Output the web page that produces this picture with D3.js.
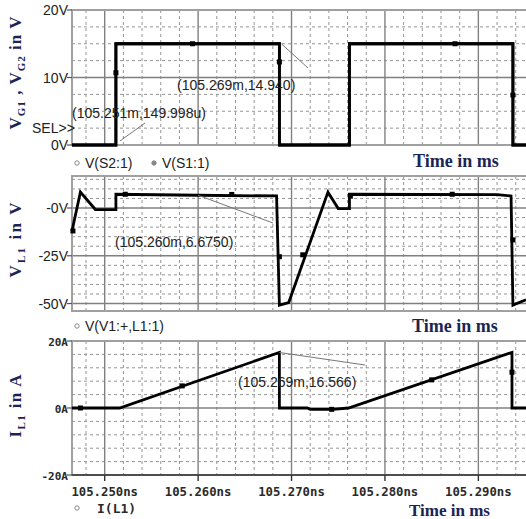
<!DOCTYPE html>
<html>
<head>
<meta charset="utf-8">
<script src="https://cdn.jsdelivr.net/npm/d3@7"></script>
<style>
body { margin: 0; background: #fff; }
svg { display: block; }
.vlab { font-family: "Liberation Sans", Arial, sans-serif; font-size: 14px; fill: #222; }
.mono { font-family: "DejaVu Sans Mono", monospace; font-weight: bold; fill: #2a2a2a; }
.ttl { font-family: "Liberation Serif", "Times New Roman", serif; font-weight: bold; fill: #1b2554; }
</style>
</head>
<body>
<div id="chart"></div>
<script>
// time axis (values as printed on the plot, in "ns")
var timeDomain = [105.2465, 105.2951];
var majorTimes = [105.25, 105.26, 105.27, 105.28, 105.29];
var timeLabels = ["105.250ns", "105.260ns", "105.270ns", "105.280ns", "105.290ns"];

// panel 1 : gate voltages
var gateTime = [105.2465, 105.2512, 105.2512, 105.2687, 105.2687, 105.2762, 105.2762, 105.2937, 105.2937, 105.2951];
var gateS2 = [0, 0, 15, 15, 0, 0, 15, 15, 0, 0];
var gateS1 = [0, 0, 15, 15, 0, 0, 15, 15, 0, 0];
var gateMarks = [[105.2512, 10.7], [105.2594, 15], [105.2687, 12.3], [105.2875, 15], [105.2937, 7.4]];
var gateTicks = [20, 10, 0];
var gateTickLabels = ["20V", "10V", "0V"];

// panel 2 : inductor voltage
var vlTime = [105.2465, 105.2474, 105.2490, 105.2512, 105.2512, 105.2600, 105.2684, 105.2687, 105.2697, 105.2739, 105.2750, 105.2762, 105.2762, 105.2920, 105.2935, 105.2937, 105.2951];
var vlValues = [-12, 8.3, -0.8, -0.8, 7.2, 6.675, 6.3, -50.8, -49.5, 8.3, -0.3, -0.3, 7.2, 7.0, 6.3, -50.8, -48];
var vlMarks = [[105.2466, -12], [105.2522, 7.2], [105.2636, 7.1], [105.2687, -25.5], [105.2712, -24.5], [105.2763, 6.2], [105.2872, 7.2], [105.2937, -16.7]];
var vlTicks = [0, -25, -50];
var vlTickLabels = ["-0V", "-25V", "-50V"];

// panel 3 : inductor current
var ilTime = [105.2465, 105.2516, 105.2687, 105.2687, 105.2717, 105.2720, 105.2744, 105.2761, 105.2936, 105.2936, 105.2951];
var ilValues = [0, 0, 16.566, 0, 0, -0.4, -0.4, 0, 16.6, 0, 0];
var ilMarks = [[105.2474, 0], [105.2583, 6.6], [105.2743, -0.4], [105.2850, 8.4], [105.2936, 10.7]];
var ilTicks = [20, 0, -20];
var ilTickLabels = ["20A", "0A", "-20A"];

var W = 526, H = 519, left = 72;

var svg = d3.select("#chart").append("svg").attr("width", W).attr("height", H);

var x = d3.scaleLinear().domain(timeDomain).range([left, W]);

svg.append("defs").append("clipPath").attr("id", "plotclip")
   .append("rect").attr("x", left - 2).attr("y", 0).attr("width", W).attr("height", H);

var zip = function(ts, vs) {
    return ts.map(function(t, i) { return [t, vs[i]]; });
};

var drawPanel = function(p) {
    var y = d3.scaleLinear().domain(p.yDomain).range([p.bottom, p.top]);
    var g = svg.append("g");

    // minor grid
    var minorX = d3.range(105.248, 105.2951, 0.002).filter(function(t) {
        return Math.abs(Math.round(t * 100) - t * 100) > 1e-6;
    });
    g.selectAll(".mx").data(minorX).enter().append("line")
     .attr("x1", x).attr("x2", x).attr("y1", p.top).attr("y2", p.bottom)
     .attr("stroke", "#959595").attr("stroke-dasharray", "3,3");
    g.selectAll(".my").data(p.yMinor).enter().append("line")
     .attr("x1", left).attr("x2", W).attr("y1", y).attr("y2", y)
     .attr("stroke", "#959595").attr("stroke-dasharray", "3,3");

    // major grid
    g.selectAll(".Mx").data(majorTimes).enter().append("line")
     .attr("x1", x).attr("x2", x).attr("y1", p.top).attr("y2", p.bottom)
     .attr("stroke", "#808080").attr("stroke-width", 1.4);
    g.selectAll(".My").data(p.yTicks).enter().append("line")
     .attr("x1", left).attr("x2", W).attr("y1", y).attr("y2", y)
     .attr("stroke", "#808080").attr("stroke-width", 1.4);

    // frame
    g.append("rect").attr("x", left).attr("y", p.top)
     .attr("width", W - left + 4).attr("height", p.bottom - p.top)
     .attr("fill", "none").attr("stroke", "#a0a0a0").attr("stroke-width", 2);

    // y ticks + labels
    g.selectAll(".yt").data(p.yTicks).enter().append("line")
     .attr("x1", left - 5).attr("x2", left).attr("y1", y).attr("y2", y)
     .attr("stroke", "#555").attr("stroke-width", 1.2);
    g.selectAll(".yl").data(p.yTicks).enter().append("text")
     .attr("class", p.mono ? "mono" : "vlab")
     .attr("font-size", p.mono ? 11 : null)
     .attr("x", left - 4).attr("y", function(d) { return y(d) + 5; })
     .attr("text-anchor", "end")
     .text(function(d, i) { return p.yLabels[i]; });

    // traces
    var line = d3.line().x(function(d) { return x(d[0]); }).y(function(d) { return y(d[1]); });
    var tg = g.append("g").attr("clip-path", "url(#plotclip)");
    p.series.forEach(function(s) {
        tg.append("path").datum(s).attr("d", line)
          .attr("fill", "none").attr("stroke", "#000").attr("stroke-width", 2.8)
          .attr("stroke-linejoin", "miter");
    });
    tg.selectAll(".mk").data(p.marks).enter().append("rect")
      .attr("x", function(d) { return x(d[0]) - 2.5; })
      .attr("y", function(d) { return y(d[1]) - 2.5; })
      .attr("width", 5).attr("height", 5).attr("fill", "#000");

    // cursor annotations
    p.notes.forEach(function(n) {
        g.append("line")
         .attr("x1", x(n.t) + n.d0[0]).attr("y1", y(n.v) + n.d0[1])
         .attr("x2", n.end[0]).attr("y2", n.end[1])
         .attr("stroke", "#777").attr("stroke-width", 1);
        g.append("text").attr("class", "vlab").attr("font-size", 15)
         .attr("x", n.pos[0]).attr("y", n.pos[1]).text(n.text);
    });
    return y;
};

var p1 = {
    top: 10, bottom: 145, yDomain: [0, 20],
    yTicks: gateTicks, yLabels: gateTickLabels,
    yMinor: [2.5, 5, 7.5, 12.5, 15, 17.5],
    series: [zip(gateTime, gateS2), zip(gateTime, gateS1)],
    marks: gateMarks,
    notes: [
        { t: 105.2687, v: 15, d0: [2, 0], end: [308, 68], pos: [177, 90], text: "(105.269m,14.940)" },
        { t: 105.2512, v: 0, d0: [4, -4], end: [145, 123], pos: [72, 118], text: "(105.251m,149.998u)" }
    ]
};
var p2 = {
    top: 176, bottom: 311, yDomain: [-53.9, 16.75],
    yTicks: vlTicks, yLabels: vlTickLabels,
    yMinor: [15, 10, 5, -5, -10, -15, -20, -30, -35, -40, -45],
    series: [zip(vlTime, vlValues)],
    marks: vlMarks,
    notes: [
        { t: 105.2600, v: 6.675, d0: [0, 0], end: [273, 223], pos: [115, 247], text: "(105.260m,6.6750)" }
    ]
};
var p3 = {
    top: 341, bottom: 475, yDomain: [-20, 20], mono: true,
    yTicks: ilTicks, yLabels: ilTickLabels,
    yMinor: [16, 12, 8, 4, -4, -8, -12, -16],
    series: [zip(ilTime, ilValues)],
    marks: ilMarks,
    notes: [
        { t: 105.2687, v: 16.566, d0: [0, 0], end: [365, 365], pos: [238, 387], text: "(105.269m,16.566)" }
    ]
};

drawPanel(p1);
drawPanel(p2);
drawPanel(p3);

// bottom time axis on the last panel
var xAxis = svg.append("g");
xAxis.append("line").attr("x1", left).attr("x2", W).attr("y1", 475).attr("y2", 475)
     .attr("stroke", "#333").attr("stroke-width", 1.6);
xAxis.selectAll(".xt").data(majorTimes).enter().append("line")
     .attr("x1", x).attr("x2", x).attr("y1", 475).attr("y2", 481)
     .attr("stroke", "#333").attr("stroke-width", 1.4);
xAxis.selectAll(".xl").data(majorTimes).enter().append("text")
     .attr("class", "mono").attr("font-size", 12.3)
     .attr("x", x).attr("y", 496).attr("text-anchor", "middle")
     .text(function(d, i) { return timeLabels[i]; });

// SEL marker
svg.append("text").attr("class", "vlab").attr("font-size", 13.5)
   .attr("x", 32).attr("y", 133).text("SEL>>");

// legends
var legend = function(xx, yy, filled, label, mono) {
    svg.append("circle").attr("cx", xx).attr("cy", yy - 5).attr("r", 2.2)
       .attr("fill", filled ? "#888" : "none").attr("stroke", "#888").attr("stroke-width", 1);
    svg.append("text").attr("class", mono ? "mono" : "vlab")
       .attr("font-size", mono ? 13 : 16)
       .attr("x", xx + (mono ? 20 : 8)).attr("y", yy).text(label);
};
legend(77, 168, false, "V(S2:1)");
legend(154, 168, true, "V(S1:1)");
legend(77, 331, false, "V(V1:+,L1:1)");
legend(77, 513, false, "I(L1)", true);

// "Time in ms" captions
[[413, 167, 18], [412, 332, 18], [409, 516, 17]].forEach(function(pt) {
    svg.append("text").attr("class", "ttl").attr("font-size", pt[2])
       .attr("x", pt[0]).attr("y", pt[1]).text("Time in ms");
});

// rotated y titles
var yTitle = function(cy, parts, len) {
    var t = svg.append("text").attr("class", "ttl").attr("font-size", 17)
       .attr("transform", "translate(21," + cy + ") rotate(-90)")
       .attr("text-anchor", "middle").attr("textLength", len)
       .attr("lengthAdjust", "spacing");
    parts.forEach(function(pp) {
        var s = t.append("tspan").text(pp[0]);
        if (pp[1]) s.attr("font-size", 11).attr("dy", 4);
        else s.attr("dy", pp[2] || 0);
    });
};
yTitle(73, [["V"], ["G1", true], [" , V", false, -4], ["G2", true], [" in V", false, -4]], 113);
yTitle(240, [["V"], ["L1", true], [" in V", false, -4]], 75);
yTitle(406, [["I"], ["L1", true], [" in A", false, -4]], 63);
</script>
</body>
</html>
